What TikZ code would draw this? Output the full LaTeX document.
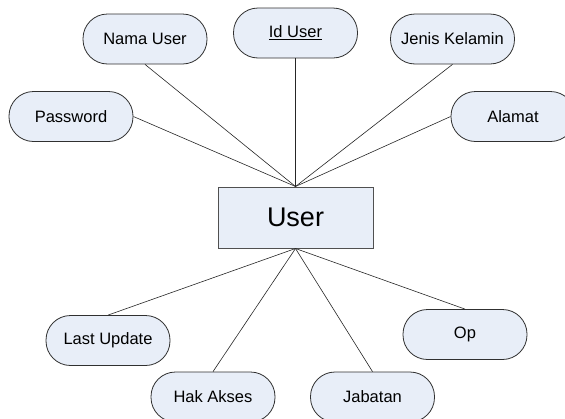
\documentclass[tikz,border=0pt]{standalone}
\usepackage{fontspec}
\setmainfont{Liberation Sans}
\definecolor{shapefill}{HTML}{E8EEF8}
\definecolor{shapeline}{HTML}{303030}
\definecolor{rectline}{HTML}{505050}
\tikzset{
  attr/.style={draw=shapeline, fill=shapefill, line width=0.8pt, rounded corners=24.5pt,
    minimum width=124pt, minimum height=50pt, inner sep=0pt, font=\fontsize{16.5}{18}\selectfont},
  entity/.style={draw=rectline, fill=shapefill, line width=1pt, minimum width=155pt,
    minimum height=61pt, inner sep=0pt, font=\fontsize{27}{30}\selectfont},
  link/.style={draw=black!85, line width=0.6pt}
}
\begin{document}
\begin{tikzpicture}[x=1pt,y=-1pt]
\useasboundingbox (0,0) rectangle (565,418);
\clip (0,0) rectangle (565,418);
\node[entity] (user) at (295.5,217.5) {User};
\node[attr] (nama) at (145,39) {Nama User};
\node[attr] (id) at (295.5,33) {\underline{Id User}};
\node[attr] (jenis) at (452.5,39) {Jenis Kelamin};
\node[attr] (pass) at (71,116.5) {Password};
\node[attr] (alamat) at (513,116.5) {Alamat};
\node[attr] (last) at (108,340.5) {Last Update};
\node[attr] (hak) at (213,397) {Hak Akses};
\node[attr] (op) at (465,334.5) {Op};
\node[attr] (jab) at (372.5,397) {Jabatan};
\draw[link] (nama.south) -- (user.north);
\draw[link] (id.south) -- (user.north);
\draw[link] (jenis.south) -- (user.north);
\draw[link] (pass.east) -- (user.north);
\draw[link] (alamat.west) -- (user.north);
\draw[link] (last.north) -- (user.south);
\draw[link] (hak.north) -- (user.south);
\draw[link] (op.north) -- (user.south);
\draw[link] (jab.north) -- (user.south);
\end{tikzpicture}
\end{document}
